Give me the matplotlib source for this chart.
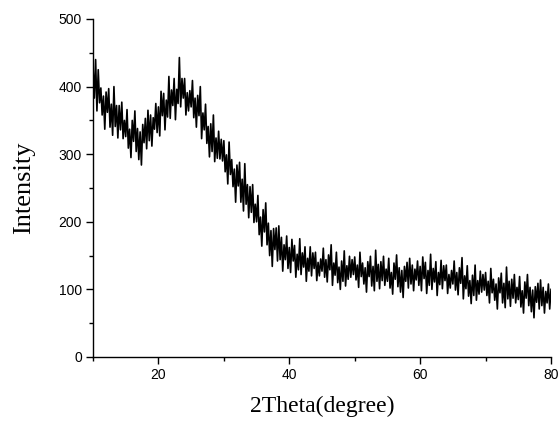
import numpy as np
import matplotlib
matplotlib.use("Agg")
import matplotlib.pyplot as plt
from matplotlib.ticker import MultipleLocator

# Scan grid (degrees 2-theta): start and step size
two_theta_start = 10.0
two_theta_step = 0.2

# Intensity values, one per scan step (10.0 ... 80.0)
intensity = [
    # 10.0 - 14.8
    430, 383, 440, 364, 425, 376, 398, 358, 386, 337, 392, 362, 397, 340, 374, 328, 400, 341, 372, 324, 372, 336, 377, 323, 350,
    # 15.0 - 19.8
    326, 366, 309, 337, 295, 350, 319, 364, 304, 338, 292, 333, 284, 344, 317, 353, 308, 365, 320, 358, 312, 354, 337, 375, 332,
    # 20.0 - 24.8
    370, 327, 393, 357, 390, 336, 380, 355, 415, 353, 395, 372, 412, 351, 396, 375, 443, 370, 412, 383, 412, 358, 391, 364, 394,
    # 25.0 - 29.8
    370, 409, 354, 383, 340, 387, 357, 400, 323, 361, 336, 374, 316, 341, 296, 345, 304, 358, 289, 324, 294, 334, 293, 322, 290,
    # 30.0 - 34.8
    320, 274, 299, 256, 318, 270, 292, 252, 278, 229, 284, 253, 288, 229, 263, 216, 286, 226, 255, 206, 252, 214, 255, 199, 226,
    # 35.0 - 39.8
    200, 239, 181, 207, 164, 218, 185, 228, 166, 198, 150, 187, 134, 190, 159, 191, 142, 194, 144, 177, 127, 166, 144, 179, 131,
    # 40.0 - 44.8
    162, 125, 174, 142, 165, 118, 152, 129, 175, 122, 154, 133, 163, 112, 146, 127, 163, 120, 154, 131, 155, 113, 140, 120, 145,
    # 45.0 - 49.8
    127, 161, 118, 144, 111, 151, 129, 166, 106, 139, 121, 155, 110, 133, 100, 142, 112, 157, 105, 135, 115, 149, 118, 144, 122,
    # 50.0 - 54.8
    148, 114, 136, 103, 155, 119, 139, 108, 132, 96, 141, 119, 149, 105, 134, 98, 158, 112, 137, 101, 141, 113, 149, 106, 130,
    # 55.0 - 59.8
    112, 146, 102, 125, 93, 139, 115, 151, 104, 132, 96, 128, 88, 134, 112, 140, 102, 146, 108, 136, 98, 130, 114, 142, 106,
    # 60.0 - 64.8
    134, 98, 148, 116, 140, 94, 128, 106, 152, 100, 131, 111, 141, 91, 125, 107, 143, 101, 135, 113, 136, 94, 122, 102, 128,
    # 65.0 - 69.8
    108, 142, 99, 125, 92, 132, 109, 147, 86, 120, 101, 135, 90, 113, 79, 121, 91, 136, 84, 113, 93, 127, 96, 122, 99,
    # 70.0 - 74.8
    125, 91, 112, 80, 131, 95, 115, 84, 108, 71, 117, 95, 124, 80, 109, 73, 133, 86, 112, 75, 115, 87, 122, 80, 103,
    # 75.0 - 79.8
    85, 119, 74, 98, 65, 111, 87, 122, 76, 103, 67, 99, 58, 104, 81, 109, 71, 114, 76, 103, 65, 97, 80, 108, 71,
    # 80.0
    100,
]

two_theta = two_theta_start + two_theta_step * np.arange(len(intensity))

x_ticks = [20, 40, 60, 80]
y_ticks = [0, 100, 200, 300, 400, 500]

plt.rcParams['font.family'] = ['Liberation Sans', 'DejaVu Sans']

fig = plt.figure(figsize=(5.59, 4.21), dpi=100)
ax = fig.add_axes([93/559, 1 - 357/421, 458/559, 338/421])

ax.plot(two_theta, intensity, color='black', linewidth=1.2)

ax.set_xlim(10, 80)
ax.set_ylim(0, 500)
ax.set_xticks(x_ticks)
ax.set_yticks(y_ticks)
ax.xaxis.set_minor_locator(MultipleLocator(10))
ax.yaxis.set_minor_locator(MultipleLocator(50))

for side in ('top', 'right'):
    ax.spines[side].set_visible(False)
for side in ('left', 'bottom'):
    ax.spines[side].set_linewidth(1.0)

ax.tick_params(which='major', direction='out', length=5, width=1.0, labelsize=10, pad=3)
ax.tick_params(which='minor', direction='out', length=3, width=1.0)

ax.set_xlabel('2Theta(degree)', family=['Liberation Serif', 'DejaVu Serif'], fontsize=17, labelpad=10)
ax.set_ylabel('Intensity', family=['Liberation Serif', 'DejaVu Serif'], fontsize=19, labelpad=17)

fig.savefig('out.png', dpi=100)
